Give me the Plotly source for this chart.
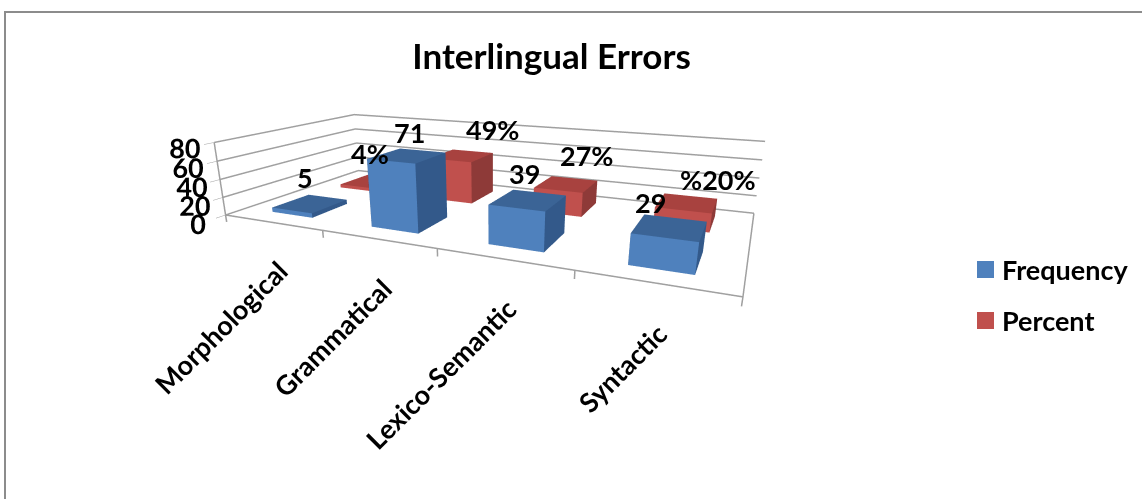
import plotly.graph_objects as go

categories = ["Morphological", "Grammatical", "Lexico-Semantic", "Syntactic"]
frequency = [5, 71, 39, 29]
percent = [4, 49, 27, 20]
frequency_labels = ["5", "71", "39", "29"]
percent_labels = ["4%", "49%", "27%", "%20%"]
z_ticks = [0, 20, 40, 60, 80]

FONT = "Lato"
BW = 0.42
BD = 0.5
ZMIN = -8
LINE = "#a0a0a0"
FREQ_SHIFT = [(-5, 19), (3, 15), (-4, 18), (-20, 16)]
PCT_SHIFT = [(-2, 20), (31, 18), (20, 20), (30, 14)]


def bar(xc, yc, h, front, side, top, name):
    x0, x1, y0, y1 = xc - BW / 2, xc + BW / 2, yc - BD / 2, yc + BD / 2
    xs = [x0, x1, x1, x0, x0, x1, x1, x0]
    ys = [y0, y0, y1, y1, y0, y0, y1, y1]
    zs = [0, 0, 0, 0, h, h, h, h]
    i = [0, 0, 4, 4, 0, 0, 1, 1, 3, 3, 0, 0]
    j = [1, 2, 5, 6, 1, 5, 2, 6, 2, 6, 3, 7]
    k = [2, 3, 6, 7, 5, 4, 6, 5, 6, 7, 7, 4]
    fc = [side, side, top, top, front, front, side, side, side, side, side, side]
    return go.Mesh3d(x=xs, y=ys, z=zs, i=i, j=j, k=k, facecolor=fc, flatshading=True,
                     lighting=dict(ambient=1, diffuse=0, specular=0, fresnel=0),
                     name=name, showlegend=False, hoverinfo="name", showscale=False)


fig = go.Figure()
for n, (f, p) in enumerate(zip(frequency, percent)):
    xc = n + 0.5
    fig.add_trace(bar(xc, 1.5, p, "#C0504D", "#8E3A38", "#A8423F", "Percent"))
    fig.add_trace(bar(xc, 0.5, f, "#4F81BD", "#33598A", "#3B6496", "Frequency"))

# floor outline and the vertical category ticks
fx, fy, fz = [0, 4, 4], [0, 0, 2], [0, 0, 0]
for t in range(5):
    fx += [None, t, t]
    fy += [None, 0, 0]
    fz += [None, 0, ZMIN]
fig.add_trace(go.Scatter3d(x=fx, y=fy, z=fz, mode="lines", line=dict(color=LINE, width=3),
                           hoverinfo="skip", showlegend=False))

bold = lambda s: dict(family=FONT, size=s, color="black", weight=700)
ann = []
for n, c in enumerate(categories):
    ann.append(dict(x=n + 0.5, y=0, z=ZMIN, text=c, textangle=-45, showarrow=False, xanchor="right",
                    yanchor="top", xshift=23, yshift=-22, font=bold(27)))
    ann.append(dict(x=n + 0.5, y=0.5, z=frequency[n] + 8, text=frequency_labels[n], showarrow=False,
                    xshift=FREQ_SHIFT[n][0], yshift=FREQ_SHIFT[n][1], font=bold(27)))
    ann.append(dict(x=n + 0.5, y=1.5, z=percent[n] + 10, text=percent_labels[n], showarrow=False,
                    xshift=PCT_SHIFT[n][0], yshift=PCT_SHIFT[n][1], font=bold(27)))


def axis(**kw):
    d = dict(showbackground=False, showgrid=False, showline=False, zeroline=False,
             showspikes=False, title=dict(text=""), showticklabels=False, ticks="")
    d.update(kw)
    return d


fig.update_layout(
    width=1142, height=499, autosize=False,
    paper_bgcolor="white",
    margin=dict(l=0, r=0, t=0, b=0),
    title=dict(text="Interlingual Errors", x=0.483, xanchor="center", y=0.886, yanchor="middle",
               font=bold(35)),
    showlegend=False,
    scene=dict(
        domain=dict(x=[0.0, 0.86], y=[0.0, 1.0]),
        aspectmode="manual", aspectratio=dict(x=2.6, y=1.2, z=0.43),
        camera=dict(eye=dict(x=1.28, y=-2.86, z=0.76), center=dict(x=0, y=0, z=-0.38), up=dict(x=0.075, y=0, z=1),
                    projection=dict(type="perspective")),
        xaxis=axis(range=[0, 4]),
        yaxis=axis(range=[0, 2]),
        zaxis=axis(range=[ZMIN, 80], tickvals=z_ticks, showgrid=True, gridcolor=LINE, gridwidth=3,
                   showline=True, linecolor=LINE, linewidth=3, ticks="outside", ticklen=6, tickcolor=LINE,
                   showticklabels=True, tickangle=0, tickfont=bold(18)),
        annotations=ann,
    ),
    shapes=[
        dict(type="rect", xref="paper", yref="paper", x0=5 / 1142, x1=1.2, y0=-0.2, y1=1 - 12 / 499,
             line=dict(color="#8c8c8c", width=2)),
        dict(type="rect", xref="paper", yref="paper", x0=977 / 1142, x1=994 / 1142, y0=1 - 278 / 499, y1=1 - 261 / 499,
             fillcolor="#4F81BD", line=dict(width=0)),
        dict(type="rect", xref="paper", yref="paper", x0=977 / 1142, x1=994 / 1142, y0=1 - 329 / 499, y1=1 - 312 / 499,
             fillcolor="#C0504D", line=dict(width=0)),
    ],
    annotations=[
        dict(xref="paper", yref="paper", x=1000 / 1142, y=1 - 269 / 499, text="Frequency", showarrow=False, xanchor="left",
             font=bold(27)),
        dict(xref="paper", yref="paper", x=1000 / 1142, y=1 - 320 / 499, text="Percent", showarrow=False, xanchor="left",
             font=bold(27)),
    ],
)
fig.write_html("out.html", config=dict(displayModeBar=False),
               post_script="document.body.style.margin='0';window.dispatchEvent(new Event('resize'));")
